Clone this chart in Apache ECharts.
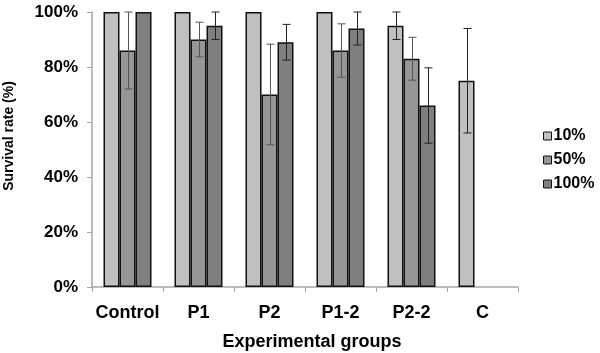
<!DOCTYPE html>
<html>
<head>
<meta charset="utf-8">
<script src="https://cdn.jsdelivr.net/npm/echarts@6/dist/echarts.min.js"></script>
<style>
  html, body { margin: 0; padding: 0; background: #fff; }
  #pic { width: 600px; height: 353px; }
</style>
</head>
<body>
<div id="pic"></div>
<script>
var groups = ['Control', 'P1', 'P2', 'P1-2', 'P2-2', 'C'];
var seriesNames = ['10%', '50%', '100%'];
// survival rate (%) per concentration
var rate10 = [100, 100, 100, 100, 95, 75];
var rate50 = [86, 90, 70, 86, 83, null];
var rate100 = [100, 95, 89, 94, 66, null];
// error bar half-lengths (%)
var err10 = [0, 0, 0, 0, 5, 19];
var err50 = [14, 6.3, 18.3, 9.7, 7.8, null];
var err100 = [0, 5, 6.5, 6, 13.7, null];
var yTicks = [0, 20, 40, 60, 80, 100];

var rates = [rate10, rate50, rate100];
var errs = [err10, err50, err100];
var colors = ['#c0c0c0', '#969696', '#7f7f7f'];
var barW = 16;
var font = 'Liberation Sans, Arial, sans-serif';

var chart = echarts.init(document.getElementById('pic'));

var series = [];
for (var i = 0; i < 3; i++) {
  series.push({
    name: seriesNames[i],
    type: 'bar',
    barWidth: barW,
    barGap: '0%',
    itemStyle: { color: colors[i], borderColor: '#111', borderWidth: 1.5 },
    animation: false,
    data: rates[i]
  });
}
// error bars drawn with custom series, one per concentration
for (var i = 0; i < 3; i++) {
  (function (k) {
    var d = [];
    for (var j = 0; j < groups.length; j++) {
      if (rates[k][j] == null || !errs[k][j]) continue;
      d.push([j, rates[k][j] - errs[k][j], Math.min(100, rates[k][j] + errs[k][j])]);
    }
    series.push({
      type: 'custom',
      animation: false,
      silent: true,
      z: 5,
      data: d,
      encode: { x: 0, y: [1, 2] },
      renderItem: function (params, api) {
        var c = api.value(0);
        var lo = api.coord([c, api.value(1)]);
        var hi = api.coord([c, api.value(2)]);
        var x = Math.round(lo[0] + (k - 1) * barW) + 0.5;
        var cap = 4;
        var st = { stroke: k === 1 ? '#555' : '#222', lineWidth: 1 };
        return {
          type: 'group',
          children: [
            { type: 'line', shape: { x1: x, y1: lo[1], x2: x, y2: hi[1] }, style: st },
            { type: 'line', shape: { x1: x - cap, y1: lo[1], x2: x + cap, y2: lo[1] }, style: st },
            { type: 'line', shape: { x1: x - cap, y1: hi[1], x2: x + cap, y2: hi[1] }, style: st }
          ]
        };
      }
    });
  })(i);
}

var option = {
  backgroundColor: '#fff',
  textStyle: { fontFamily: font },
  grid: { left: 92, right: 82, top: 12, bottom: 66, outerBoundsMode: 'none', containLabel: false },
  legend: {
    orient: 'vertical',
    left: 538,
    top: 123,
    itemWidth: 8,
    itemHeight: 8,
    itemGap: 8,
    icon: 'rect',
    data: seriesNames,
    itemStyle: { borderColor: '#111', borderWidth: 1 },
    textStyle: { fontSize: 16, fontWeight: 'bold', color: '#000', fontFamily: font, padding: [0, 0, 0, -3] }
  },
  xAxis: {
    type: 'category',
    data: groups,
    name: 'Experimental groups',
    nameLocation: 'middle',
    nameGap: 46,
    nameTextStyle: { fontSize: 18, fontWeight: 'bold', color: '#000', padding: [0, 0, 0, 14] },
    axisLine: { lineStyle: { color: '#a6a6a6', width: 1.5 } },
    axisTick: { show: true, length: 5, lineStyle: { color: '#a6a6a6' } },
    axisLabel: { interval: 0, fontSize: 18, fontWeight: 'bold', color: '#000', margin: 17 }
  },
  yAxis: {
    type: 'value',
    min: yTicks[0],
    max: yTicks[yTicks.length - 1],
    interval: 20,
    name: 'Survival rate (%)',
    nameLocation: 'middle',
    nameGap: 76,
    nameTextStyle: { fontSize: 14, fontWeight: 'bold', color: '#000', padding: [0, 0, 0, 27] },
    axisLine: { show: true, lineStyle: { color: '#a6a6a6', width: 1.5 } },
    axisTick: { show: true, length: 5, lineStyle: { color: '#a6a6a6' } },
    splitLine: { show: false },
    axisLabel: { fontSize: 17, fontWeight: 'bold', color: '#000', margin: 14, formatter: '{value}%' }
  },
  series: series
};
chart.setOption(option);
</script>
</body>
</html>
